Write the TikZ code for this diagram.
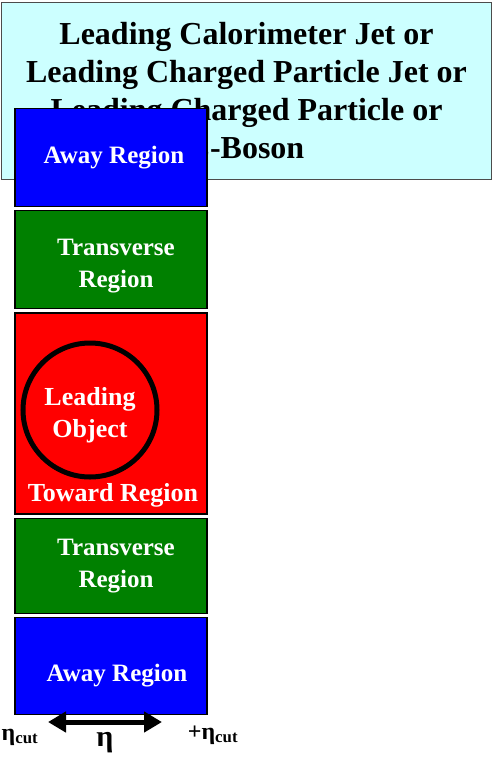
\documentclass[tikz,border=0pt]{standalone}
\usepackage{fontspec}
\setmainfont{Liberation Serif}
\usetikzlibrary{positioning,arrows.meta}
\definecolor{titlecolor}{RGB}{204,255,255}
\definecolor{awaycolor}{RGB}{0,0,255}
\definecolor{transcolor}{RGB}{0,128,0}
\definecolor{towardcolor}{RGB}{255,0,0}

\tikzset{
	region/.style={draw=black, line width=1.2pt, minimum width=192pt, inner sep=0pt, text=white, align=center, font=\fontsize{25}{32}\selectfont\bfseries},
	gap/.style={below = 3pt of #1}
}

\begin{document}
\begin{tikzpicture}[x=1pt,y=-1pt]

				\useasboundingbox (0,0) rectangle (493,758);

				\node[draw=black!70, line width=1.5pt, fill=titlecolor, minimum width=490pt, minimum height=177pt, align=center, font=\fontsize{32}{38}\selectfont\bfseries] (title) at (246.5,91) {Leading Calorimeter Jet or\\Leading Charged Particle Jet or\\Leading Charged Particle or\\Z-Boson};

				\node[region, fill=awaycolor, minimum height=98pt, anchor=north] (away1) at (111,108) {\hspace{6pt}Away Region};
				\node[region, fill=transcolor, minimum height=98pt, text height=60pt] (trans1) [gap=away1] {\hspace{10pt}Transverse\\\hspace{10pt}Region};
				\node[region, fill=towardcolor, minimum height=201pt] (toward) [gap=trans1] {};
				\node[region, fill=transcolor, minimum height=95pt] (trans2) [gap=toward] {\hspace{10pt}Transverse\\\hspace{10pt}Region};
				\node[region, fill=awaycolor, minimum height=97pt, text height=36pt] (away2) [gap=trans2] {\hspace{12pt}Away Region};

				\node[draw=black, line width=5pt, circle, minimum size=134pt, inner sep=0pt, text height=60pt, text=white, align=center, font=\fontsize{26}{32}\selectfont\bfseries] (leading) at (90,410) {Leading\\Object};
				\node[text=white, font=\fontsize{26}{28}\selectfont\bfseries, above = 4pt of toward.south, xshift=2pt] (towardlabel) {Toward Region};

				\coordinate (etaL) at (48,722);
				\coordinate (etaR) at (162,722);
				\draw[{Triangle[length=18pt,width=20pt]}-{Triangle[length=18pt,width=20pt]}, line width=5pt] (etaL) -- (etaR);

				\node[font=\fontsize{30}{30}\selectfont\bfseries] (eta) at (105,743) {η};
				\node[font=\fontsize{24}{24}\selectfont\bfseries] (etamin) at (20,737) {η\textsubscript{cut}};
				\node[font=\fontsize{24}{24}\selectfont\bfseries] (etamax) at (213,735) {+η\textsubscript{cut}};

			\end{tikzpicture}
\end{document}
